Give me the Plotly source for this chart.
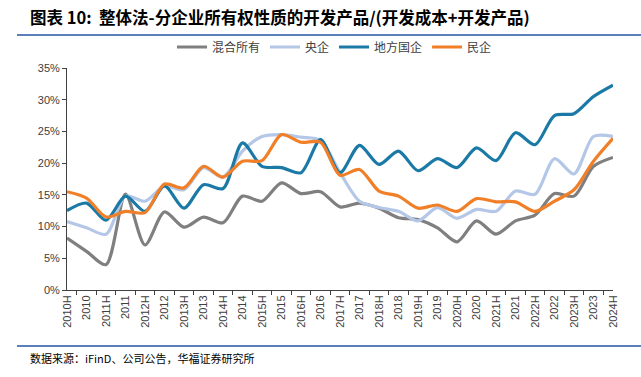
import plotly.graph_objects as go

categories = ["2010H","2010","2011H","2011","2012H","2012","2013H","2013","2014H","2014",
              "2015H","2015","2016H","2016","2017H","2017","2018H","2018","2019H","2019",
              "2020H","2020","2021H","2021","2022H","2022","2023H","2023","2024H"]

mixed = [8.2, 6.1, 4.0, 15.1, 7.1, 12.3, 9.9, 11.5, 10.6, 14.8,
         14.0, 16.9, 15.2, 15.5, 13.1, 13.7, 12.9, 11.4, 11.1, 9.8,
         7.6, 10.9, 8.8, 10.9, 11.8, 15.2, 14.8, 19.5, 20.9]
central = [10.8, 9.8, 8.8, 14.8, 14.0, 16.4, 15.8, 19.3, 17.8, 21.9,
           24.2, 24.5, 24.1, 23.6, 18.5, 14.0, 13.0, 12.4, 10.9, 13.0,
           11.3, 12.7, 12.4, 15.6, 15.1, 20.7, 18.3, 24.2, 24.2]
local_soe = [12.5, 13.7, 11.0, 14.8, 12.4, 16.4, 12.9, 16.6, 16.0, 23.2,
             19.5, 19.3, 18.5, 23.7, 18.5, 22.8, 19.8, 21.9, 18.8, 20.7,
             19.3, 22.4, 20.4, 24.8, 22.9, 27.5, 27.8, 30.5, 32.3]
private = [15.5, 14.5, 11.5, 12.4, 12.2, 16.7, 16.1, 19.5, 17.8, 20.3,
           20.4, 24.5, 23.3, 23.3, 18.1, 19.0, 15.6, 14.8, 12.9, 13.4,
           12.4, 14.4, 13.9, 13.9, 12.4, 14.0, 15.8, 20.3, 23.9]

series = [("混合所有", mixed, "#7f7f7f"),
          ("央企", central, "#b4c7e7"),
          ("地方国企", local_soe, "#1b79a6"),
          ("民企", private, "#f07f28")]

W, H = 641, 377
L, R, T, B = 67, 28, 68, 87
PW, PH = W - L - R, H - T - B

def px_x(x):
    return (x - L) / PW

def px_y(y):
    return (H - B - y) / PH

fig = go.Figure()
for name, vals, col in series:
    fig.add_trace(go.Scatter(x=categories, y=vals, name=name, mode="lines",
                             line=dict(color=col, width=3.2, shape="spline", smoothing=0.8)))

fig.update_layout(
    width=W, height=H,
    margin=dict(l=L, r=R, t=T, b=B, autoexpand=False),
    paper_bgcolor="white", plot_bgcolor="white",
    font=dict(family="Noto Sans CJK SC, Liberation Sans", size=11, color="#404040"),
    showlegend=True,
    legend=dict(orientation="h", xref="container", yref="container",
                x=172 / W, xanchor="left", y=(H - 47) / H, yanchor="middle",
                font=dict(size=12, color="#404040"), entrywidth=0,
                bgcolor="rgba(0,0,0,0)", itemwidth=30),
    xaxis=dict(type="category", tickangle=-90, showgrid=False, showline=True,
               linecolor="#404040", linewidth=1, ticks="outside", ticklen=4,
               tickson="boundaries", tickcolor="#404040", automargin=False,
               tickfont=dict(family="Liberation Sans, DejaVu Sans", size=11, color="#404040")),
    yaxis=dict(range=[0, 35], dtick=5, ticksuffix="%", showgrid=False, showline=True,
               linecolor="#404040", linewidth=1, ticks="outside", ticklen=4,
               tickcolor="#404040", zeroline=False, automargin=False,
               tickfont=dict(family="Liberation Sans, DejaVu Sans", size=11, color="#404040")),
    annotations=[
        dict(text="<b>图表 10:  整体法-分企业所有权性质的开发产品/(开发成本+开发产品)</b>",
             xref="paper", yref="paper", x=px_x(28), y=px_y(17),
             xanchor="left", yanchor="middle", showarrow=False,
             font=dict(family="Noto Sans CJK SC", size=16.5, color="#000000")),
        dict(text="数据来源：iFinD、公司公告，华福证券研究所",
             xref="paper", yref="paper", x=px_x(28), y=px_y(358),
             xanchor="left", yanchor="middle", showarrow=False,
             font=dict(family="Noto Sans CJK SC", size=11, color="#000000")),
    ],
    shapes=[
        dict(type="line", xref="paper", yref="paper",
             x0=px_x(17), x1=px_x(W), y0=px_y(35), y1=px_y(35),
             line=dict(color="#5b7fb8", width=2)),
        dict(type="line", xref="paper", yref="paper",
             x0=px_x(17), x1=px_x(W), y0=px_y(346), y1=px_y(346),
             line=dict(color="#5b7fb8", width=2)),
    ],
)

fig.write_html("out.html",
               config={"displayModeBar": False},
               post_script="document.body.style.margin='0';document.body.style.overflow='hidden';")
